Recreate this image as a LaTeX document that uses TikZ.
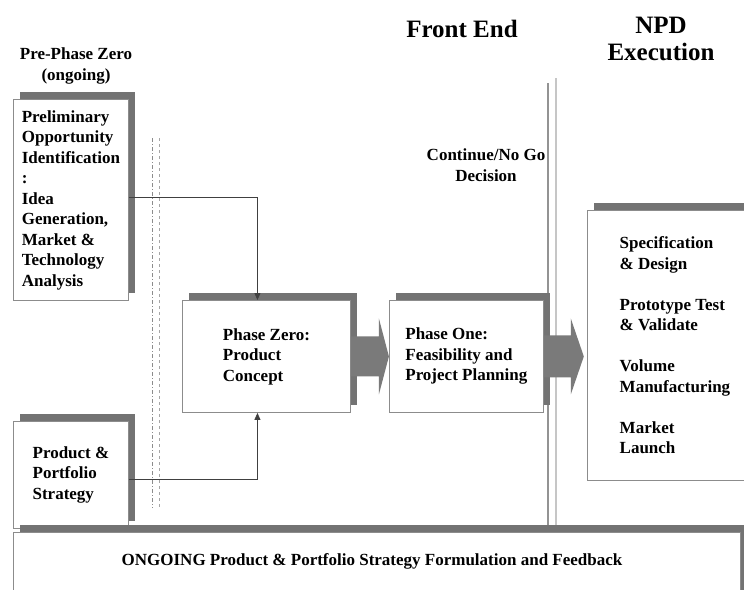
\documentclass[tikz,border=0pt]{standalone}
\usepackage{fontspec}
\setmainfont{Liberation Serif}
\usepackage{tikz}
\usetikzlibrary{arrows.meta,calc,positioning,shadows}
\definecolor{shade}{gray}{0.45}
\definecolor{frame}{gray}{0.55}
\tikzset{>=stealth,
	phase/.style={% white boxes with a grey shadow up and right
		draw=frame, fill=white,
		line width=0.9pt,
		rectangle,
		anchor=north west,
		inner sep=2pt,
		align=left,
		drop shadow={shadow xshift=7pt, shadow yshift=7pt, fill=shade, opacity=1}
	},
	heading/.style={
		font=\bfseries\fontsize{25}{27}\selectfont,
		align=center,
		inner sep=0pt
	},
	note/.style={
		align=center,
		inner sep=0pt
	},
	link/.style={
		draw=black!75, line width=0.8pt,
		-{Triangle[length=7pt,width=6pt]}
	},
	bigarrow/.style={fill=shade!95}
}

\begin{document}
\begin{tikzpicture}[x=1pt,y=-1pt,every node/.style={font=\bfseries\fontsize{17}{20.5}\selectfont}]
	\useasboundingbox (0,0) rectangle (744,589);
	\fill[white] (0,0) rectangle (744,589);
	\clip (0,0) rectangle (744,589);

	\node (front) [heading] at (462,29) {Front End};
	\node (exec) [heading] at (661,39) {NPD\\Execution};
	\node (pre) [note] at (76,66) {Pre-Phase Zero\\(ongoing)};
	\node (gate) [note] at (486,165) {Continue/No Go\\Decision};

	% Dividers between the stages.
	\draw[gray!90, line width=1pt, dash pattern=on 4pt off 2pt on 1pt off 2pt] (152,138) -- (152,508);
	\draw[gray!70, line width=1pt, dashed] (159,138) -- (159,508);
	\draw[gray!85, line width=1.2pt] (548,83) -- (548,525);
	\draw[gray!45, line width=1.2pt] (556,78) -- (556,525);

	\node (prelim) [phase, minimum width=115pt, minimum height=201pt] at (13,99)
		{Preliminary\\Opportunity\\Identification\\:\\Idea\\Generation,\\Market \&\\Technology\\Analysis};
	\node (strategy) [phase, minimum width=115pt, minimum height=107pt] at (13,421)
		{Product \&\\Portfolio\\Strategy};
	\node (zero) [phase, minimum width=168pt, minimum height=112pt] at (182,300)
		{Phase Zero:\\Product\\Concept};
	\node (one) [phase, minimum width=154pt, minimum height=112pt, right=38pt of zero]
		{Phase One:\\Feasibility and\\Project Planning};
	\node (npd) [phase, minimum width=175pt, minimum height=270pt] at (587,210)
		{Specification\\\& Design\\[20.5pt]Prototype Test\\\& Validate\\[20.5pt]Volume\\Manufacturing\\[20.5pt]Market\\Launch};
	\node (ongoing) [phase, align=center, minimum width=727pt, minimum height=80pt] at (13,532) {};
	\node (feedback) [note] at (372,561) {ONGOING Product \& Portfolio Strategy Formulation and Feedback};

	% Fat arrows from phase to phase.
	\fill[bigarrow] ($(zero.east)+(0,-20)$) -- ($(one.west)+(-10,-20)$) -- ($(one.west)+(-10,-38)$)
		-- (one.west) -- ($(one.west)+(-10,38)$) -- ($(one.west)+(-10,20)$) -- ($(zero.east)+(0,20)$) -- cycle;
	\coordinate (tip) at ($(one.east)+(40,0)$);
	\fill[bigarrow] ($(one.east)+(0,-21)$) -- ($(tip)+(-13,-21)$) -- ($(tip)+(-13,-38)$)
		-- (tip) -- ($(tip)+(-13,38)$) -- ($(tip)+(-13,21)$) -- ($(one.east)+(0,21)$) -- cycle;

	\draw[link] ($(prelim.east)+(0,-3)$) -| ($(zero.north)+(-9,0)$);
	\draw[link] ($(strategy.east)+(0,4)$) -| ($(zero.south)+(-9,0)$);
\end{tikzpicture}
\end{document}
